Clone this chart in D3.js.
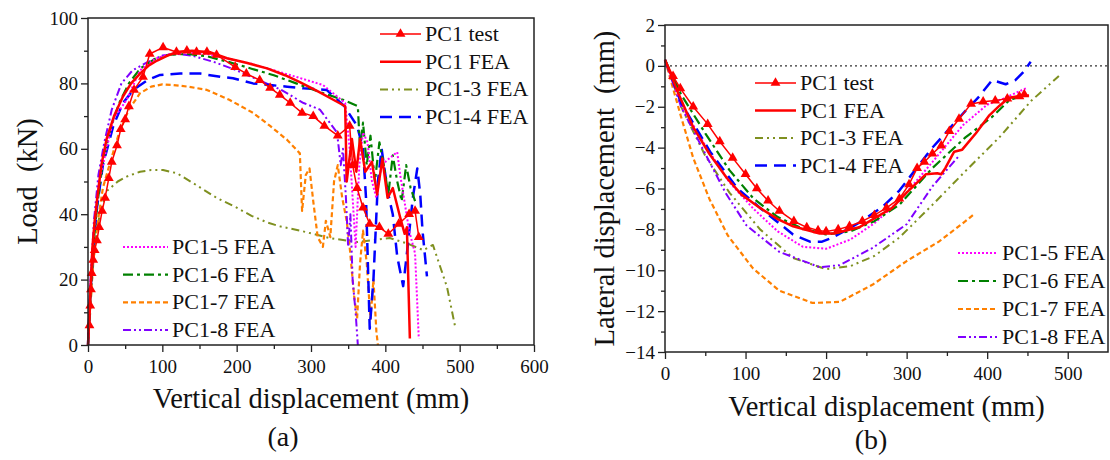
<!DOCTYPE html>
<html>
<head>
<meta charset="utf-8">
<script src="https://cdn.jsdelivr.net/npm/d3@7"></script>
<style>
  body { margin: 0; background: #fff; }
  svg { display: block; }
  svg text { font-family: "Liberation Serif", serif !important; fill: #111; }
</style>
</head>
<body>
<div id="chart"></div>
<script>
// ---- (a) load vs vertical displacement ----
var loadTest = [[0,0],[2,6],[3,12],[4,17],[5,22],[7,26],[9,29],[12,32],[15,36],[19,41],[23,45],[28,51],[32,56],[39,61],[44,66],[50,69],[55,73],[62,78],[74,82],[83,89],[101,91],[119,89.6],[133,90],[146,89.6],[160,89.6],[173,88.7],[198,85],[213,83],[231,81],[245,78.6],[258,76.5],[272,74],[288,71],[303,70],[318,67],[336,64],[352,67],[356,55],[362,48],[370,42],[379,37],[392,36],[404,34],[418,37],[432,40],[440,41],[445,33]];
var loadFea = [[0,0],[3,15],[6,30],[9,38],[12,44],[18,55],[25,63],[35,70],[47,76],[58,80],[70,83],[82,85.5],[93,87],[107,88.5],[120,89.6],[140,90],[165,89.5],[187,87.7],[213,86.3],[241,84.6],[265,82.5],[285,80.4],[310,77.5],[330,75],[343,73.4],[346,73],[348,50],[355,63],[361,53],[366,63],[373,53],[382,56],[389,46],[396,57],[403,45],[410,48],[420,39],[426,34],[429,36],[433,2]];
var load3 = [[0,0],[3,10],[6,22],[10,32],[15,39],[25,47],[40,50],[52,51.5],[70,53],[85,53.5],[101,53.5],[120,52.5],[145,49],[173,45],[200,42],[220,39.5],[241,37.5],[258,36.3],[285,35],[325,32.7],[362,31.5],[406,32.7],[430,31],[451,29],[464,30.6],[483,17.7],[494,5.5]];
var load4 = [[0,0],[3,15],[7,30],[12,42],[20,55],[34,67],[47,74],[61,78],[80,81],[97,82.6],[124,83],[151,83],[178,82],[195,81.6],[222,80],[245,79.5],[268,79],[290,78.5],[321,78],[345,73],[362,67],[370,60],[374,45],[379,5],[384,20],[390,50],[395,60],[400,52],[405,45],[410,40],[416,27],[424,18],[430,30],[437,45],[443,54],[447,46],[450,35],[456,21]];
var load5 = [[0,0],[3,18],[8,35],[15,50],[25,60],[34,69],[52,75],[70,84],[90,87.5],[110,89],[130,89.5],[160,89],[190,87.5],[220,86],[250,84],[280,82],[316,79.5],[346,74],[352,60],[356,45],[360,30],[365,55],[370,65],[376,62],[382,50],[388,45],[395,55],[405,57],[416,59],[420,52],[425,45],[432,35],[440,28],[445,2]];
var load6 = [[0,0],[3,15],[7,30],[12,42],[20,56],[30,66],[42,74],[55,80],[70,84.5],[90,87.5],[110,88.8],[135,89],[160,88.3],[190,86.5],[220,84.5],[250,82.5],[280,80],[310,77.5],[343,75],[363,73],[366,60],[370,68],[375,55],[380,64],[386,50],[392,62],[398,55],[404,46],[410,58],[416,50],[422,44],[428,55],[434,48],[440,44]];
var load7 = [[0,0],[3,12],[7,25],[12,36],[20,48],[30,56],[42,65],[55,72],[70,77],[85,79],[100,79.7],[115,79.5],[135,79],[160,78],[190,75],[222,71],[245,67],[268,62.7],[285,58.6],[288,41],[293,52],[298,54],[303,44],[309,33],[316,30],[320,38],[326,33],[331,50],[336,55],[342,45],[348,38],[352,30],[358,15],[362,8],[366,25],[370,35],[375,25],[380,8],[384,20],[388,4],[390,0]];
var load8 = [[0,0],[3,18],[8,38],[14,52],[22,62],[32,72],[45,80],[60,84],[80,86.5],[100,88.5],[120,89],[140,88.5],[170,86.5],[200,84],[230,81],[260,78],[290,74],[312,72],[335,65],[340,55],[343,60],[347,45],[350,30],[353,40],[356,20],[360,10],[363,0]];

// ---- (b) lateral vs vertical displacement ----
var latTest = [[0,0.3],[10,-0.5],[19,-1.1],[35,-2.0],[53,-2.85],[68,-3.7],[84,-4.5],[100,-5.3],[114,-6],[128,-6.6],[142,-7.1],[160,-7.6],[176,-7.9],[190,-8.05],[200,-8.1],[215,-8.0],[229,-7.85],[245,-7.6],[260,-7.3],[275,-6.95],[291,-6.5],[303,-5.8],[313,-5.0],[322,-4.7],[332,-4.3],[343,-3.9],[353,-3.2],[365,-2.6],[380,-1.86],[395,-1.75],[410,-1.7],[425,-1.6],[440,-1.5],[446,-1.4]];
var latFea = [[0,0.3],[15,-1.2],[35,-3.0],[55,-4.3],[77,-5.5],[95,-6.3],[118,-6.95],[140,-7.5],[159,-7.85],[192,-8.2],[210,-8.2],[241,-7.9],[282,-6.95],[300,-6.2],[324,-5.3],[338,-5.25],[343,-5.3],[348,-5.0],[359,-4.2],[369,-4.1],[386,-3.3],[402,-2.45],[415,-1.96],[427,-1.56],[442,-1.47],[452,-1.45]];
var lat3 = [[0,0.3],[20,-2.0],[50,-4.4],[80,-6.2],[118,-8.0],[159,-9.4],[200,-9.95],[230,-9.8],[260,-9.3],[291,-8.4],[332,-6.8],[373,-5.15],[415,-3.5],[455,-1.7],[489,-0.5]];
var lat4 = [[0,0.3],[20,-1.8],[56,-4.2],[90,-6.0],[118,-6.95],[159,-8.25],[180,-8.6],[195,-8.6],[208,-8.4],[240,-7.7],[270,-6.9],[291,-6.1],[332,-4.0],[373,-2.2],[390,-1.5],[406,-0.7],[415,-0.8],[423,-0.9],[435,-0.7],[445,-0.3],[454,0.2]];
var lat5 = [[0,0.3],[20,-1.9],[50,-3.9],[80,-5.7],[110,-7.0],[140,-8.1],[171,-8.85],[200,-8.95],[230,-8.5],[260,-7.7],[291,-6.6],[330,-4.8],[370,-2.9],[400,-1.9],[420,-1.6],[448,-1.1]];
var lat6 = [[0,0.3],[20,-1.4],[50,-3.3],[80,-5.1],[110,-6.5],[140,-7.4],[170,-7.95],[200,-8.25],[230,-8.1],[260,-7.6],[291,-6.8],[332,-5.0],[373,-3.5],[406,-2.5],[427,-1.7],[440,-1.5]];
var lat7 = [[0,0.3],[20,-2.5],[35,-4.5],[55,-6.5],[78,-8.3],[109,-9.9],[142,-11.0],[183,-11.6],[217,-11.55],[258,-10.7],[300,-9.55],[340,-8.6],[373,-7.6],[384,-7.25]];
var lat8 = [[0,0.3],[20,-2.0],[50,-4.3],[75,-6.2],[101,-7.8],[142,-9.1],[192,-9.85],[217,-9.75],[258,-8.9],[300,-7.75],[332,-5.9],[365,-4.4]];

var loadTicks = [0, 20, 40, 60, 80, 100];
var latTicks = [2, 0, -2, -4, -6, -8, -10, -12, -14];
var dispTicksA = [0, 100, 200, 300, 400, 500, 600];
var dispTicksB = [0, 100, 200, 300, 400, 500];

var FONT = "Liberation Serif, serif";

var styles = {
  test: {color: "#ff0000", width: 1.5, dash: null, label: "PC1 test", marker: true},
  fea:  {color: "#ff0000", width: 2.5, dash: null, label: "PC1 FEA"},
  s3:   {color: "#7f9020", width: 2, dash: "8,4,2,4,2,4", label: "PC1-3 FEA"},
  s4:   {color: "#0000ff", width: 2.5, dash: "12,7", label: "PC1-4 FEA"},
  s5:   {color: "#ff00ff", width: 2, dash: "2,2", label: "PC1-5 FEA"},
  s6:   {color: "#008000", width: 2.2, dash: "10,4,3,4", label: "PC1-6 FEA"},
  s7:   {color: "#ff8000", width: 2.2, dash: "5,3", label: "PC1-7 FEA"},
  s8:   {color: "#8000ff", width: 2, dash: "8,3,2,3,2,3", label: "PC1-8 FEA"}
};

var svg = d3.select("#chart").append("svg")
  .attr("width", 1110).attr("height", 460)
  .attr("font-family", FONT);

function drawPanel(p) {
  var g = svg.append("g").attr("transform", "translate(" + p.left + "," + p.top + ")");
  var x = d3.scaleLinear().domain(p.xDomain).range([0, p.width]);
  var y = d3.scaleLinear().domain(p.yDomain).range([p.height, 0]);

  // minor ticks
  g.append("g").attr("transform", "translate(0," + p.height + ")")
    .call(d3.axisBottom(x).tickValues(p.xMinor).tickSize(4).tickFormat(""))
    .call(a => a.select(".domain").remove());
  g.append("g")
    .call(d3.axisLeft(y).tickValues(p.yMinor).tickSize(4).tickFormat(""))
    .call(a => a.select(".domain").remove());

  var xAxis = g.append("g").attr("transform", "translate(0," + p.height + ")")
    .call(d3.axisBottom(x).tickValues(p.xTicks).tickSize(7).tickPadding(8).tickFormat(d3.format("d")));
  var yAxis = g.append("g")
    .call(d3.axisLeft(y).tickValues(p.yTicks).tickSize(7).tickPadding(3).tickFormat(d3.format("d")));
  [xAxis, yAxis].forEach(function(a) {
    a.attr("font-family", FONT);
    a.selectAll(".domain").remove();
    a.selectAll("text").attr("font-size", "19px").attr("fill", "#111");
  });
  g.selectAll(".tick line").attr("stroke", "#222").attr("stroke-width", 1.3);

  if (p.zeroLine) {
    g.append("line").attr("x1", 0).attr("x2", p.width)
      .attr("y1", y(0)).attr("y2", y(0))
      .attr("stroke", "#333").attr("stroke-width", 1.2).attr("stroke-dasharray", "2,3");
  }

  var line = d3.line().x(d => x(d[0])).y(d => y(d[1]));
  p.series.forEach(function(s) {
    var st = styles[s.key];
    g.append("path").datum(s.data)
      .attr("fill", "none")
      .attr("stroke", st.color)
      .attr("stroke-width", st.width)
      .attr("stroke-dasharray", st.dash)
      .attr("stroke-linejoin", "round")
      .attr("d", line);
    if (st.marker) {
      g.selectAll(null).data(s.data.slice(1)).enter().append("path")
        .attr("d", d3.symbol(d3.symbolTriangle).size(42))
        .attr("transform", d => "translate(" + x(d[0]) + "," + y(d[1]) + ")")
        .attr("fill", st.color);
    }
  });

  g.append("rect").attr("width", p.width).attr("height", p.height)
    .attr("fill", "none").attr("stroke", "#222").attr("stroke-width", 1.5);

  // axis titles
  svg.append("text")
    .attr("x", p.left + p.width / 2).attr("y", p.xTitleY)
    .attr("text-anchor", "middle").attr("font-size", "28.5px")
    .text("Vertical displacement (mm)");
  svg.append("text")
    .attr("transform", "translate(" + p.yTitleX + "," + (p.top + p.height / 2) + ") rotate(-90)")
    .attr("text-anchor", "middle").attr("font-size", "28.5px")
    .style("white-space", "pre")
    .text(p.yTitle);
  svg.append("text")
    .attr("x", p.tagX).attr("y", p.tagY)
    .attr("text-anchor", "middle").attr("font-size", "28px")
    .text(p.tag);

  // legends
  p.legends.forEach(function(lg) {
    lg.keys.forEach(function(k, i) {
      var st = styles[k];
      var cy = lg.y + i * lg.step;
      svg.append("line")
        .attr("x1", lg.x).attr("x2", lg.x + lg.len)
        .attr("y1", cy).attr("y2", cy)
        .attr("stroke", st.color).attr("stroke-width", st.width)
        .attr("stroke-dasharray", st.dash);
      if (st.marker) {
        svg.append("path")
          .attr("d", d3.symbol(d3.symbolTriangle).size(42))
          .attr("transform", "translate(" + (lg.x + lg.len / 2) + "," + cy + ")")
          .attr("fill", st.color);
      }
      svg.append("text")
        .attr("x", lg.x + lg.len + 4).attr("y", cy + 7)
        .attr("font-size", "22px")
        .text(st.label);
    });
  });
}

drawPanel({
  left: 88, top: 18, width: 446, height: 327,
  xDomain: [0, 600], yDomain: [0, 100],
  xTicks: dispTicksA, yTicks: loadTicks,
  xMinor: [50, 150, 250, 350, 450, 550], yMinor: [10, 30, 50, 70, 90],
  xTitleY: 408, yTitleX: 37, yTitle: "Load  (kN)",
  tag: "(a)", tagX: 283, tagY: 446,
  series: [
    {key: "s3", data: load3}, {key: "s7", data: load7}, {key: "s8", data: load8},
    {key: "s4", data: load4}, {key: "s6", data: load6}, {key: "s5", data: load5},
    {key: "fea", data: loadFea}, {key: "test", data: loadTest}
  ],
  legends: [
    {x: 380, y: 34, step: 27.7, len: 41, keys: ["test", "fea", "s3", "s4"]},
    {x: 123, y: 247, step: 27.7, len: 45, keys: ["s5", "s6", "s7", "s8"]}
  ]
});

drawPanel({
  left: 665, top: 25, width: 443, height: 327,
  xDomain: [0, 550], yDomain: [-14, 2],
  xTicks: dispTicksB, yTicks: latTicks,
  xMinor: [50, 150, 250, 350, 450], yMinor: [1, -1, -3, -5, -7, -9, -11, -13],
  xTitleY: 416, yTitleX: 614, yTitle: "Lateral displacement  (mm)",
  tag: "(b)", tagX: 871, tagY: 449,
  zeroLine: true,
  series: [
    {key: "s7", data: lat7}, {key: "s3", data: lat3}, {key: "s8", data: lat8},
    {key: "s5", data: lat5}, {key: "s4", data: lat4}, {key: "s6", data: lat6},
    {key: "fea", data: latFea}, {key: "test", data: latTest}
  ],
  legends: [
    {x: 755, y: 83, step: 27.5, len: 41, keys: ["test", "fea", "s3", "s4"]},
    {x: 958, y: 253, step: 28, len: 40, keys: ["s5", "s6", "s7", "s8"]}
  ]
});
</script>
</body>
</html>
